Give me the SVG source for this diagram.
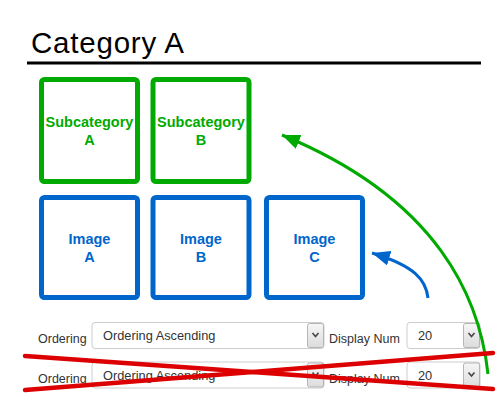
<svg xmlns="http://www.w3.org/2000/svg" width="500" height="400" viewBox="0 0 500 400">
<style>
  text { font-family: "Liberation Sans", Arial, sans-serif; }
  .title { font-size: 29.5px; fill: #000; }
  .sub rect { fill: #fff; stroke: #00aa00; stroke-width: 5; }
  .sub text { fill: #00aa00; font-size: 14.5px; font-weight: bold; text-anchor: middle; }
  .img rect { fill: #fff; stroke: #0066cc; stroke-width: 5; }
  .img text { fill: #0066cc; font-size: 14.5px; font-weight: bold; text-anchor: middle; }
  .lbl { font-size: 12.5px; fill: #333; }
  .sel { fill: #fff; stroke: #cccccc; stroke-width: 1; }
  .btn { fill: url(#btnGrad); stroke: #b5b5b5; stroke-width: 1; }
  .chev { fill: none; stroke: #444; stroke-width: 1.6; }
  .val { font-size: 12.8px; fill: #333; }
  .cross { stroke: #dd0000; stroke-width: 4.5; stroke-linecap: round; fill: none; }
</style>
<defs>
  <linearGradient id="btnGrad" x1="0" y1="0" x2="0" y2="1">
    <stop offset="0" stop-color="#f6f6f6"/>
    <stop offset="1" stop-color="#dcdcdc"/>
  </linearGradient>
  <marker id="arrGreen" markerUnits="userSpaceOnUse" markerWidth="20" markerHeight="16" refX="18" refY="7.5" orient="auto">
    <path d="M0,0 L18,7.5 L0,15 z" fill="#00aa00"/>
  </marker>
  <marker id="arrBlue" markerUnits="userSpaceOnUse" markerWidth="20" markerHeight="16" refX="18" refY="7.5" orient="auto">
    <path d="M0,0 L18,7.5 L0,15 z" fill="#0066cc"/>
  </marker>
  <g id="selRow">
    <text class="lbl" x="38" y="343">Ordering</text>
    <rect class="sel" x="92" y="322.5" width="232" height="26" rx="3"/>
    <text class="val" x="103" y="340">Ordering Ascending</text>
    <rect class="btn" x="307.5" y="323.5" width="16" height="24" rx="2"/>
    <path class="chev" d="M312.5,333 L315.5,336.5 L318.5,333"/>
    <text class="lbl" x="329" y="343">Display Num</text>
    <rect class="sel" x="407" y="322.5" width="73" height="26" rx="3"/>
    <text class="val" x="418" y="340">20</text>
    <rect class="btn" x="463.5" y="323.5" width="16" height="24" rx="2"/>
    <path class="chev" d="M468.5,333 L471.5,336.5 L474.5,333"/>
  </g>
</defs>

<g id="title">
  <text class="title" x="31" y="53" textLength="153" lengthAdjust="spacing">Category A</text>
  <rect x="27" y="61.5" width="454" height="3" fill="#000"/>
</g>

<g id="subA" class="sub">
  <rect x="41.5" y="79.5" width="96" height="102" rx="3"/>
  <text x="89.5" y="127">Subcategory</text>
  <text x="89.5" y="145">A</text>
</g>
<g id="subB" class="sub">
  <rect x="153" y="79.5" width="96" height="102" rx="3"/>
  <text x="201" y="127">Subcategory</text>
  <text x="201" y="145">B</text>
</g>

<g id="imgA" class="img">
  <rect x="41.5" y="197.5" width="96" height="100" rx="3"/>
  <text x="89.5" y="244">Image</text>
  <text x="89.5" y="262">A</text>
</g>
<g id="imgB" class="img">
  <rect x="153" y="197.5" width="96" height="100" rx="3"/>
  <text x="201" y="244">Image</text>
  <text x="201" y="262">B</text>
</g>
<g id="imgC" class="img">
  <rect x="266.5" y="197.5" width="96" height="100" rx="3"/>
  <text x="314.5" y="244">Image</text>
  <text x="314.5" y="262">C</text>
</g>

<g id="row1">
  <use href="#selRow"/>
</g>
<g id="row2">
  <use href="#selRow" transform="translate(0,39.5)"/>
</g>

<g id="connectors">
  <path d="M488,374 C480,300 440,200 282,135" fill="none" stroke="#00aa00" stroke-width="3" marker-end="url(#arrGreen)"/>
  <path d="M428,298 C426,280 415,266 372,253" fill="none" stroke="#0066cc" stroke-width="3" marker-end="url(#arrBlue)"/>
  <line class="cross" x1="25" y1="356" x2="493" y2="389"/>
  <line class="cross" x1="25" y1="390" x2="493" y2="353"/>
</g>
</svg>
